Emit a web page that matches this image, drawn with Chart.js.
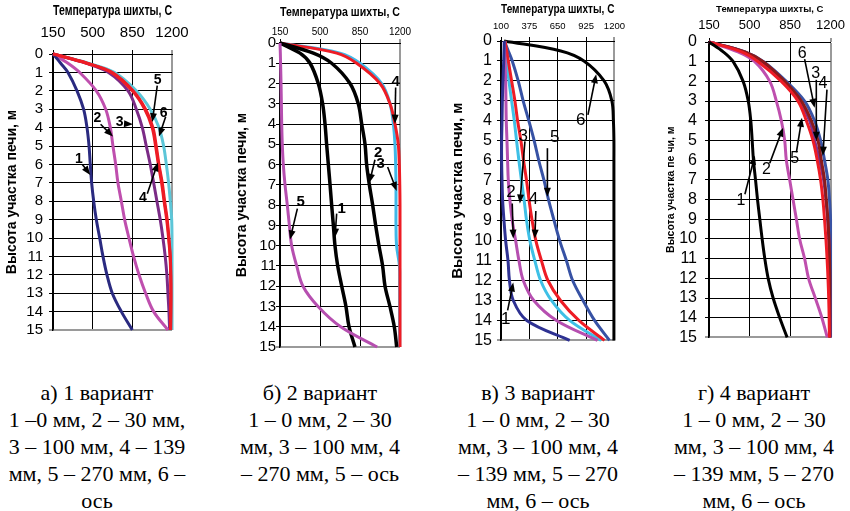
<!DOCTYPE html>
<html>
<head>
<meta charset="utf-8">
<script src="https://cdn.jsdelivr.net/npm/chart.js@4.4.1/dist/chart.umd.min.js"></script>
<style>
  body { margin: 0; background: #fff; width: 850px; height: 511px; position: relative; overflow: hidden; }
  canvas { position: absolute; top: 0; }
  .cap { position: absolute; top: 379px; width: 240px; text-align: center; white-space: nowrap;
         font-family: "Liberation Serif", "DejaVu Serif", "Noto Serif", serif;
         font-size: 22px; line-height: 27px; color: #000; }
</style>
</head>
<body>
<canvas id="chA" width="200" height="345" style="left:0px"></canvas>
<canvas id="chB" width="210" height="360" style="left:210px"></canvas>
<canvas id="chC" width="205" height="355" style="left:425px"></canvas>
<canvas id="chD" width="215" height="355" style="left:635px"></canvas>

<div class="cap" style="left:-23px">а) 1 вариант<br>1 –0 мм, 2 – 30 мм,<br>3 – 100 мм, 4 – 139<br>мм, 5 – 270 мм, 6 –<br>ось</div>
<div class="cap" style="left:200px">б) 2 вариант<br>1 – 0 мм, 2 – 30<br>мм, 3 – 100 мм, 4<br>– 270 мм, 5 – ось</div>
<div class="cap" style="left:418px">в) 3 вариант<br>1 – 0 мм, 2 – 30<br>мм, 3 – 100 мм, 4<br>– 139 мм, 5 – 270<br>мм, 6 – ось</div>
<div class="cap" style="left:634px">г) 4 вариант<br>1 – 0 мм, 2 – 30<br>мм, 3 – 100 мм, 4<br>– 139 мм, 5 – 270<br>мм, 6 – ось</div>

<script>
// height of the furnace section, m (shared by every curve)
const H = [0, 0.5, 1, 2, 3, 4, 5, 6, 7, 8, 9, 10, 11, 12, 13, 14, 15];

const xTicksA = [150, 500, 850, 1200];
const xTicksC = [100, 375, 650, 925, 1200];

// а) 1 вариант
const a1 = [150, 218, 282, 362, 420, 450, 468, 479, 491, 509, 532, 562, 591, 626, 673, 753, 850];
const a2 = [150, 282, 385, 532, 615, 656, 679, 703, 723, 753, 782, 820, 861, 909, 967, 1038, 1164];
const a3 = [150, 440, 640, 812, 885, 938, 973, 1008, 1038, 1067, 1096, 1120, 1140, 1155, 1164, 1173, 1179];
const a4 = [150, 448, 665, 850, 960, 1025, 1055, 1080, 1108, 1130, 1153, 1170, 1183, 1188, 1190, 1189, 1187];
const a5 = [150, 450, 670, 856, 967, 1032, 1061, 1085, 1114, 1135, 1158, 1173, 1185, 1190, 1191, 1190, 1188];
const a6 = [150, 462, 690, 885, 1008, 1085, 1126, 1150, 1170, 1185, 1197, 1200, 1200, 1200, 1200, 1200, 1200];

// б) 2 вариант
const b1 = [150, 325, 413, 485, 523, 544, 558, 573, 588, 602, 617, 631, 655, 690, 727, 754, 806];
const b2 = [150, 442, 602, 763, 835, 865, 894, 908, 932, 961, 987, 1016, 1048, 1069, 1112, 1150, 1171];
const b3 = [150, 675, 850, 1040, 1113, 1142, 1156, 1162, 1165, 1165, 1165, 1170, 1195, 1197, 1197, 1197, 1197];
const b4 = [150, 646, 821, 1025, 1113, 1156, 1185, 1194, 1198, 1200, 1200, 1200, 1200, 1200, 1200, 1200, 1200];
const b5 = [150, 153, 155, 159, 162, 165, 170, 179, 194, 214, 232, 252, 296, 351, 483, 681, 1000];

// в) 3 вариант
const c1 = [132, 129, 126, 119, 113, 110, 106, 106, 110, 116, 129, 145, 168, 182, 219, 350, 766];
const c2 = [132, 135, 139, 145, 148, 151, 158, 164, 171, 187, 209, 242, 274, 316, 418, 638, 1036];
const c3 = [139, 147, 155, 177, 203, 229, 251, 274, 299, 325, 348, 380, 428, 484, 589, 765, 1071];
const c4 = [139, 155, 171, 203, 235, 261, 293, 319, 348, 373, 402, 438, 492, 555, 677, 855, 1104];
const c5 = [132, 171, 209, 267, 315, 370, 422, 467, 518, 563, 615, 669, 734, 795, 895, 1007, 1152];
const c6 = [130, 680, 904, 1100, 1175, 1190, 1195, 1195, 1195, 1195, 1195, 1195, 1195, 1195, 1195, 1195, 1195];

// г) 4 вариант
const d1 = [150, 273, 359, 445, 489, 511, 523, 534, 552, 569, 589, 609, 632, 661, 704, 761, 825];
const d2 = [150, 400, 545, 675, 732, 775, 804, 818, 847, 876, 905, 933, 976, 1010, 1068, 1125, 1172];
const d3 = [150, 455, 610, 795, 933, 1019, 1062, 1105, 1140, 1160, 1175, 1185, 1190, 1192, 1193, 1194, 1195];
const d4 = [150, 460, 618, 804, 948, 1034, 1091, 1120, 1148, 1163, 1177, 1186, 1191, 1194, 1194, 1194, 1194];
const d5 = [150, 431, 575, 775, 919, 991, 1048, 1085, 1114, 1134, 1148, 1160, 1170, 1178, 1184, 1188, 1190];
const d6 = [150, 462, 622, 818, 976, 1062, 1114, 1148, 1177, 1191, 1200, 1200, 1200, 1200, 1200, 1200, 1200];

// curve numbers with their arrows: text at (x,y), arrow from (fx,fy) to (tx,ty)
const notesA = [
  {t: "1", x: 379, y: 5.7, fx: 409, fy: 6.0, tx: 479, ty: 6.57},
  {t: "2", x: 541, y: 3.5, fx: 570, fy: 3.82, tx: 679, ty: 4.49},
  {t: "3", x: 738, y: 3.68, fx: 782, fy: 3.79, tx: 856, ty: 3.82},
  {t: "4", x: 944, y: 7.86, fx: 982, fy: 7.59, tx: 1076, ty: 5.89},
  {t: "5", x: 1073, y: 1.4, fx: 1070, fy: 1.72, tx: 1026, ty: 3.7},
  {t: "6", x: 1126, y: 3.2, fx: 1144, fy: 3.41, tx: 1085, ty: 4.49}
];
const notesB = [
  {t: "4", x: 1162, y: 1.92, fx: 1162, fy: 2.2, tx: 1156, ty: 3.98},
  {t: "2", x: 1010, y: 5.43, fx: 981, fy: 5.76, tx: 932, ty: 6.9},
  {t: "3", x: 1031, y: 5.95, fx: 1092, fy: 6.12, tx: 1171, ty: 7.3},
  {t: "5", x: 331, y: 7.85, fx: 302, fy: 8.17, tx: 238, ty: 9.69},
  {t: "1", x: 690, y: 8.17, fx: 646, fy: 8.42, tx: 631, ty: 9.6}
];
const notesC = [
  {t: "6", x: 872, y: 3.95, fx: 943, fy: 3.7, tx: 1023, ty: 1.66},
  {t: "3", x: 315, y: 4.78, fx: 332, fy: 5.03, tx: 283, ty: 8.14},
  {t: "5", x: 621, y: 4.82, fx: 550, fy: 5.37, tx: 550, ty: 7.8},
  {t: "2", x: 196, y: 7.57, fx: 209, fy: 8.14, tx: 219, ty: 9.9},
  {t: "4", x: 415, y: 7.94, fx: 438, fy: 8.52, tx: 428, ty: 9.9},
  {t: "1", x: 145, y: 13.95, fx: 164, fy: 13.5, tx: 219, ty: 12.1}
];
const notesD = [
  {t: "6", x: 956, y: 0.59, fx: 976, fy: 0.87, tx: 1062, ty: 3.34},
  {t: "3", x: 1071, y: 1.62, fx: 1077, fy: 1.92, tx: 1077, ty: 5.02},
  {t: "4", x: 1134, y: 2.09, fx: 1169, fy: 2.42, tx: 1134, ty: 5.77},
  {t: "5", x: 890, y: 5.9, fx: 905, fy: 5.6, tx: 953, ty: 3.85},
  {t: "2", x: 646, y: 6.47, fx: 675, fy: 6.15, tx: 790, ty: 4.35},
  {t: "1", x: 425, y: 8.03, fx: 460, fy: 7.73, tx: 546, ty: 5.77}
];

const FONT = '"Liberation Sans", Arial, sans-serif';

const arrowLabels = {
  id: 'arrowLabels',
  afterDatasetsDraw(chart, args, opts) {
    const {ctx, scales: {x, y}} = chart;
    ctx.save();
    ctx.font = opts.font;
    ctx.fillStyle = '#000';
    ctx.strokeStyle = '#000';
    ctx.textAlign = 'center';
    ctx.textBaseline = 'middle';
    opts.items.forEach(it => {
      ctx.fillText(it.t, x.getPixelForValue(it.x), y.getPixelForValue(it.y));
      const x1 = x.getPixelForValue(it.fx), y1 = y.getPixelForValue(it.fy);
      const x2 = x.getPixelForValue(it.tx), y2 = y.getPixelForValue(it.ty);
      const a = Math.atan2(y2 - y1, x2 - x1);
      ctx.lineWidth = 1.6;
      ctx.beginPath();
      ctx.moveTo(x1, y1);
      ctx.lineTo(x2 - 6 * Math.cos(a), y2 - 6 * Math.sin(a));
      ctx.stroke();
      ctx.beginPath();
      ctx.moveTo(x2, y2);
      ctx.lineTo(x2 - 9 * Math.cos(a) + 3.5 * Math.sin(a), y2 - 9 * Math.sin(a) - 3.5 * Math.cos(a));
      ctx.lineTo(x2 - 9 * Math.cos(a) - 3.5 * Math.sin(a), y2 - 9 * Math.sin(a) + 3.5 * Math.cos(a));
      ctx.closePath();
      ctx.fill();
    });
    ctx.restore();
  }
};

function makePanel(id, p) {
  const xmin = p.xt[0], xmax = p.xt[p.xt.length - 1];
  new Chart(document.getElementById(id), {
    type: 'scatter',
    data: {
      datasets: p.series.map((s, i) => ({
        data: H.map((h, k) => ({x: s.v[k], y: h})),
        borderColor: s.c,
        borderWidth: s.w || p.lw,
        showLine: true,
        pointRadius: 0,
        tension: 0.35,
        clip: 4,
        order: p.series.length - i
      }))
    },
    options: {
      responsive: false,
      animation: false,
      layout: {padding: p.pad},
      plugins: {
        legend: {display: false},
        tooltip: {enabled: false},
        arrowLabels: {items: p.notes, font: p.noteFont}
      },
      scales: {
        x: {
          type: 'linear', position: 'top', min: xmin, max: xmax,
          afterBuildTicks: s => { s.ticks = p.xt.map(v => ({value: v})); },
          afterFit: s => { s.height = p.hx; },
          ticks: {font: {family: FONT, size: p.xtf}, color: '#000', padding: p.xpad, maxRotation: 0,
                  autoSkip: false, callback: v => String(v)},
          grid: {
            color: c => (c.tick && c.tick.value === xmax) ? '#9a9a9a' : '#000',
            lineWidth: c => (c.tick && c.tick.value === xmax) ? 2 : 1,
            tickLength: 4
          },
          border: {color: '#000', width: 1},
          title: {display: true, text: 'Температура шихты, С', color: '#000', padding: 0,
                  font: {family: FONT, size: p.xtt, weight: 'bold'}}
        },
        y: {
          type: 'linear', reverse: true, min: 0, max: 15,
          afterFit: s => { s.width = p.wy; },
          ticks: {stepSize: 1, autoSkip: false, font: {family: FONT, size: p.ytf}, color: '#000',
                  padding: p.ypad, callback: v => String(v)},
          grid: {
            color: c => (c.tick && c.tick.value === 15) ? '#9a9a9a' : '#000',
            lineWidth: c => (c.tick && c.tick.value === 15) ? 2 : 1,
            tickLength: 4
          },
          border: {color: '#000', width: 1.5},
          title: {display: true, text: p.ytitle, color: '#000', padding: 0,
                  font: {family: FONT, size: p.ytt, weight: 'bold'}}
        }
      }
    },
    plugins: [arrowLabels]
  });
}

makePanel('chA', {
  xt: xTicksA, pad: {left: 4, top: 3, right: 28, bottom: 13}, wy: 49, hx: 51,
  xtf: 15, xpad: 8, ytf: 15, ypad: 6, xtt: 14, ytt: 14, lw: 3,
  ytitle: 'Высота участка печи, м',
  noteFont: 'bold 14px ' + FONT, notes: notesA,
  series: [
    {v: a6, c: '#5cc6d8'}, {v: a3, c: '#7b2b86'}, {v: a4, c: '#ee1c25'},
    {v: a2, c: '#bf4fae'}, {v: a1, c: '#2a2a80'}, {v: a5, c: '#ee1c25'}
  ]
});

makePanel('chB', {
  xt: xTicksA, pad: {left: 24, top: 5, right: 20, bottom: 13}, wy: 46, hx: 38,
  xtf: 10, xpad: 1, ytf: 15, ypad: 0, xtt: 13, ytt: 14, lw: 3,
  ytitle: 'Высота участка печи, м',
  noteFont: 'bold 15px ' + FONT, notes: notesB,
  series: [
    {v: b3, c: '#40b8e8'}, {v: b4, c: '#ee1c25'}, {v: b1, c: '#000', w: 3.5},
    {v: b2, c: '#000', w: 3.5}, {v: b5, c: '#b64fb0'}
  ]
});

makePanel('chC', {
  xt: xTicksC, pad: {left: 24, top: 2, right: 15, bottom: 13}, wy: 52, hx: 39,
  xtf: 9.5, xpad: 5, ytf: 16, ypad: 5, xtt: 12, ytt: 15, lw: 3,
  ytitle: 'Высота участка печи, м',
  noteFont: '17px ' + FONT, notes: notesC,
  series: [
    {v: c6, c: '#000'}, {v: c5, c: '#3752a4'}, {v: c3, c: '#3ec0e6'},
    {v: c4, c: '#ee1c25'}, {v: c2, c: '#b64fb0'}, {v: c1, c: '#2e3192'}
  ]
});

makePanel('chD', {
  xt: xTicksA, pad: {left: 30, top: 4, right: 19, bottom: 14}, wy: 44, hx: 38,
  xtf: 13, xpad: 5, ytf: 16, ypad: 8, xtt: 9.5, ytt: 10.5, lw: 3,
  ytitle: 'Высота участка пе чи, м',
  noteFont: '16px ' + FONT, notes: notesD,
  series: [
    {v: d6, c: '#3953a4'}, {v: d3, c: '#7b3294'}, {v: d4, c: '#8b1a1a'},
    {v: d2, c: '#bf4fae'}, {v: d5, c: '#ee1c25'}, {v: d1, c: '#000'}
  ]
});
</script>
</body>
</html>
